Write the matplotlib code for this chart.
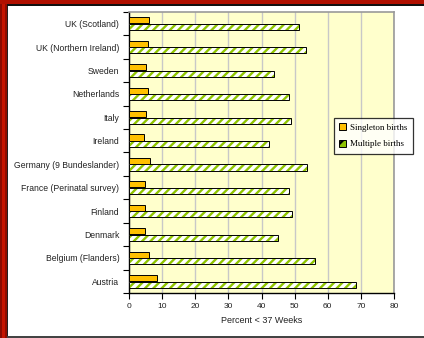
import numpy as np
import matplotlib.pyplot as plt
from matplotlib.patches import Rectangle, Patch

countries = [
    "Austria", "Belgium (Flanders)", "Denmark", "Finland",
    "France (Perinatal survey)", "Germany (9 Bundeslander)", "Ireland",
    "Italy", "Netherlands", "Sweden", "UK (Northern Ireland)", "UK (Scotland)",
]
singleton = [8.4, 6.0, 4.8, 4.8, 4.8, 6.3, 4.5, 5.2, 5.8, 5.2, 5.8, 6.1]
multiple = [68.5, 56.1, 44.9, 49.3, 48.4, 53.6, 42.4, 48.8, 48.4, 43.7, 53.3, 51.4]

plt.rcParams["hatch.linewidth"] = 1.7

fig = plt.figure(figsize=(4.24, 3.38), dpi=100)
W, H = 424, 338

# dark red frame on the left and top edges
fig.patches.append(Rectangle((0, 0), 7 / W, 1, transform=fig.transFigure,
                             facecolor="#c41400", edgecolor="none", zorder=0))
fig.patches.append(Rectangle((0, 0), 2 / W, 1, transform=fig.transFigure,
                             facecolor="#8a0a00", edgecolor="none", zorder=0))
fig.patches.append(Rectangle((5 / W, 0), 2 / W, 1, transform=fig.transFigure,
                             facecolor="#900c00", edgecolor="none", zorder=0))
fig.patches.append(Rectangle((0, 1 - 4 / H), 1, 4 / H, transform=fig.transFigure,
                             facecolor="#b01000", edgecolor="none", zorder=0))
fig.patches.append(Rectangle((7 / W, 0), 1.2 / W, 1 - 4 / H, transform=fig.transFigure,
                             facecolor="#222222", edgecolor="none", zorder=0))
fig.patches.append(Rectangle((7 / W, 1 - 5.5 / H), 1 - 7 / W, 1.5 / H, transform=fig.transFigure,
                             facecolor="#111111", edgecolor="none", zorder=0))
fig.patches.append(Rectangle((7 / W, 0.5 / H), 1 - 7 / W, 1.5 / H, transform=fig.transFigure,
                             facecolor="#444444", edgecolor="none", zorder=0))

ax = fig.add_axes([129 / W, 1 - 293 / H, 265 / W, 281 / H])
ax.set_facecolor("#ffffcc")

y = np.arange(len(countries))
h = 0.26
ax.barh(y + h / 2 + 0.01, singleton, height=h, color="#ffc000",
        edgecolor="black", linewidth=0.7, zorder=3)
ax.barh(y - h / 2 - 0.01, multiple, height=h, color="white",
        edgecolor="#8fc400", hatch="////", linewidth=0, zorder=3)
ax.barh(y - h / 2 - 0.01, multiple, height=h, fill=False,
        edgecolor="black", linewidth=0.7, zorder=4)

ax.set_xlim(0, 80)
ax.set_ylim(-0.5, len(countries) - 0.5)
ax.set_xticks(np.arange(0, 81, 10))
ax.set_yticks(y)
ax.set_yticklabels(countries)
ax.set_yticks(np.arange(-0.5, len(countries), 1), minor=True)
ax.tick_params(axis="y", which="major", length=0, labelsize=6.2, pad=7,
               labelcolor="#222222")
ax.tick_params(axis="y", which="minor", length=4, width=0.8, direction="out")
ax.tick_params(axis="x", length=4, width=0.8, labelsize=6, labelcolor="#222222")
ax.xaxis.grid(True, color="#c8c8c8", linewidth=1.0, zorder=0)
ax.set_axisbelow(True)

for side in ("top", "right"):
    ax.spines[side].set_color("#999999")
    ax.spines[side].set_linewidth(1.2)
for side in ("left", "bottom"):
    ax.spines[side].set_color("black")
    ax.spines[side].set_linewidth(1.0)

ax.set_xlabel("Percent < 37 Weeks", fontsize=6.5, color="#222222", labelpad=4)

# legend proxies with small square swatches
handles = [
    Patch(facecolor="#ffc000", edgecolor="black", linewidth=0.7),
    Patch(facecolor="#8fc400", edgecolor="black", linewidth=0.7, hatch="//"),
]
leg = fig.legend(handles, ["Singleton births", "Multiple births"],
                 loc="upper left", bbox_to_anchor=(329 / W, 1 - 113 / H),
                 prop={"family": "Liberation Serif", "size": 6.5},
                 frameon=True, fancybox=False, edgecolor="black",
                 handlelength=0.8, handleheight=0.8, handletextpad=0.4,
                 borderpad=0.6, labelspacing=0.9)
leg.get_frame().set_linewidth(0.9)

for t in ax.get_xticklabels() + ax.get_yticklabels():
    t.set_family("Liberation Sans")
ax.xaxis.label.set_family("Liberation Sans")

fig.savefig("out.png", dpi=100)
